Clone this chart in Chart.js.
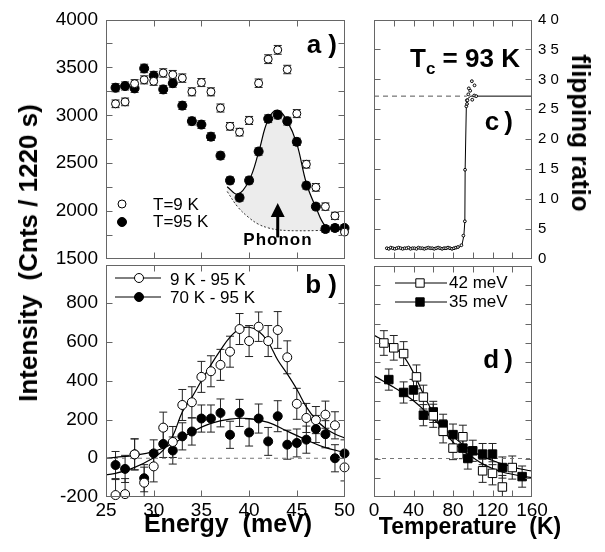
<!DOCTYPE html>
<html>
<head>
<meta charset="utf-8">
<script src="https://cdn.jsdelivr.net/npm/chart.js@4.4.1/dist/chart.umd.min.js"></script>
<style>
  html, body { margin: 0; padding: 0; background: #fff; }
  #fig { position: relative; width: 605px; height: 552px; overflow: hidden;
         font-family: "Liberation Sans", Arial, Helvetica, sans-serif; color: #000; }
  #fig canvas { position: absolute; }
  .lbl { position: absolute; font-weight: bold; white-space: nowrap; line-height: 1; }
</style>
</head>
<body>
<div id="fig">
  <canvas id="ca" width="360" height="275" style="left:0;top:0"></canvas>
  <canvas id="cb" width="360" height="293" style="left:0;top:259px"></canvas>
  <canvas id="cc" width="245" height="275" style="left:360px;top:0"></canvas>
  <canvas id="cd" width="245" height="293" style="left:360px;top:259px"></canvas>

  <div class="lbl" style="left:28px;top:253px;font-size:26px;transform:translate(-50%,-50%) rotate(-90deg)">Intensity&nbsp; (Cnts / 1220 s)</div>
  <div class="lbl" style="left:581px;top:133px;font-size:26px;transform:translate(-50%,-50%) rotate(90deg)">flipping ratio</div>
  <div class="lbl" style="left:228px;top:511px;font-size:25px;transform:translateX(-50%)">Energy&nbsp; (meV)</div>
  <div class="lbl" style="left:470px;top:515px;font-size:23px;transform:translateX(-50%)">Temperature&nbsp; (K)</div>
  <div class="lbl" style="left:410px;top:45px;font-size:26px">T<span style="font-size:17px;position:relative;top:7px">c</span> = 93 K</div>
  <div class="lbl" style="right:268px;top:31px;font-size:26px">a )</div>
  <div class="lbl" style="right:268px;top:271px;font-size:26px">b )</div>
  <div class="lbl" style="right:92px;top:108px;font-size:26px">c&#8201;)</div>
  <div class="lbl" style="right:92px;top:346px;font-size:26px">d&#8201;)</div>
  <div class="lbl" style="left:278px;top:231px;font-size:17px;letter-spacing:1px;transform:translateX(-50%)">Phonon</div>
</div>

<script>
// ---- panel a: raw intensity vs energy
const energyA = [26, 27, 28, 29, 30, 31, 32, 33, 34, 35, 36, 37, 38, 39, 40, 41, 42, 43, 44, 45, 46, 47, 48, 49, 50];
const counts9K = [3120, 3140, 3330, 3370, 3355, 3442, 3424, 3388, 3245, 3342, 3245, 3076, 2885, 2824, 2946, 3335, 3586, 3683, 3478, 3018, 2489, 2248, 2047, 1950, 1781];
const err9K = [40, 40, 42, 42, 42, 44, 44, 44, 42, 42, 42, 42, 40, 40, 42, 44, 46, 46, 44, 42, 40, 40, 38, 38, 36];
const counts95K = [3288, 3306, 3281, 3489, 3414, 3270, 3335, 3101, 2939, 2903, 2777, 2579, 2320, 2140, 2320, 2622, 2964, 3004, 2939, 2723, 2266, 2047, 1813, 1824, 1824];
const err95K = [42, 42, 42, 44, 44, 42, 42, 40, 40, 40, 40, 38, 36, 36, 36, 38, 40, 40, 40, 38, 36, 34, 34, 34, 34];
const phononFitE = [37.7, 38.8, 40, 41, 42, 43, 44, 45, 46, 47, 48, 49, 50];
const phononFit = [2255, 2176, 2320, 2615, 2957, 3054, 2939, 2705, 2291, 2040, 1842, 1810, 1806];
const phononBase = [2205, 2045, 1930, 1862, 1825, 1805, 1797, 1795, 1795, 1797, 1800, 1804, 1806];
const phononArrow = { energy: 43, from: 1725, to: 2085 };

// ---- panel b: difference spectra
const diff9K = [-190, -185, 20, -126, -42, 158, 84, 275, 289, 420, 449, 482, 550, 667, 605, 679, 605, 662, 521, 281, 208, 197, 225, 170, -47];
const errDiff9K = [80, 80, 80, 80, 80, 80, 80, 80, 80, 80, 80, 80, 80, 80, 80, 76, 80, 95, 85, 80, 75, 70, 70, 70, 70];
const diff70K = [-35, -55, 20, -103, 25, 74, 40, 113, 138, 205, 205, 234, 121, 234, 133, 205, 87, 217, 70, 79, 96, 151, 124, 0, 25];
const errDiff70K = [70, 70, 80, 70, 70, 70, 70, 70, 70, 70, 70, 72, 70, 70, 70, 75, 72, 80, 75, 72, 70, 70, 70, 70, 70];
const fitE9K = [25, 26, 28, 30, 31, 32, 33, 34, 35, 36, 37, 38, 39, 40, 41, 42, 43, 44, 45, 46, 47, 48, 49, 50];
const fit9K = [-85, -78, -47, 3, 42, 115, 239, 314, 400, 482, 558, 625, 667, 676, 655, 600, 507, 435, 356, 265, 200, 155, 125, 105];
const fitE70K = [25, 26, 28, 30, 32, 34, 36, 38, 40, 42, 44, 46, 48, 50];
const fit70K = [0, 5, 15, 35, 75, 135, 180, 202, 205, 185, 140, 95, 55, 30];

// ---- panel c: flipping ratio vs temperature
const flipT = [13, 15, 17, 19, 21, 23, 25, 27, 29, 31, 33, 35, 37, 39, 41, 43, 45, 47, 49, 51, 53, 55, 57, 59, 61, 63, 65, 67, 69, 71, 73, 75, 77, 79, 81, 83, 85,
               88.5, 90.5, 92, 92.2, 93.5, 94, 94.2, 94.6, 95.5, 96, 97.4, 99.1, 99.5, 101.8, 101.5, 103.5];
const flipR = [1.8, 1.7, 1.9, 1.8, 1.7, 1.8, 1.9, 1.8, 1.7, 1.8, 1.8, 1.9, 1.7, 1.8, 1.8, 1.7, 1.9, 1.8, 1.8, 1.7, 1.8, 1.9, 1.8, 1.8, 1.7, 1.8, 1.9, 1.8, 1.7, 1.8, 1.8, 1.9, 1.8, 1.7, 1.8, 1.9, 2.0,
               2.3, 3.9, 6.3, 14.9, 25.5, 26.5, 25.9, 26.5, 27.5, 28.5, 28.1, 29.7, 26.6, 29.0, 27.3, 27.2];
const flipFitT = [13, 86, 89, 91, 92, 92.3, 93.5, 95, 98, 160];
const flipFitR = [1.8, 1.9, 2.3, 3.9, 6.3, 15, 25.5, 26.8, 27.2, 27.2];
const flipNormal = 27.2;

// ---- panel d: intensity vs temperature
const temp42 = [10, 20, 30, 43, 50, 60, 70, 80, 90, 110, 120, 130, 140];
const int42 = [600, 575, 545, 424, 319, 222, 141, 54, 113, -64, -77, -148, -47];
const err42 = [64, 64, 62, 62, 62, 60, 60, 60, 60, 60, 60, 60, 60];
const temp35 = [15, 30, 40, 50, 60, 70, 80, 90, 95, 100, 110, 120, 130, 150];
const int35 = [410, 343, 356, 225, 242, 175, 124, 54, 0, 40, 23, 23, -47, -94];
const err35 = [55, 55, 55, 55, 55, 55, 55, 55, 55, 55, 55, 55, 55, 55];
const fitT = [0, 10, 20, 30, 40, 50, 60, 70, 80, 90, 100, 110, 120, 130, 140, 150, 160];
const fit42 = [640, 612, 580, 530, 445, 335, 235, 150, 85, 40, 5, -28, -52, -70, -82, -92, -100];
const fit35 = [430, 400, 370, 338, 300, 255, 205, 160, 115, 72, 38, 10, -10, -28, -43, -56, -66];

const FONT = '"Liberation Sans", Arial, Helvetica, sans-serif';
Chart.defaults.font.family = FONT;
Chart.defaults.color = '#000';

const toXY = (xs, ys) => xs.map((x, i) => ({ x: x, y: ys[i] }));

// fixed-size axis; the label overhang padding is dropped so the plot box stays where it is put
function axis(min, max, step, size, extra) {
    return Object.assign({
        type: 'linear', min: min, max: max,
        grid: { display: false, drawTicks: false },
        border: { display: false },
        ticks: { stepSize: step, autoSkip: false, maxRotation: 0, display: false },
        afterFit: s => {
            if (s.isHorizontal()) s.height = size; else s.width = size;
            s.paddingTop = 0; s.paddingBottom = 0; s.paddingLeft = 0; s.paddingRight = 0;
        }
    }, extra);
}

function pts(data, errors, filled, r, style) {
    return {
        data: data, errors: errors, showLine: false,
        pointStyle: style || 'circle', pointRadius: r,
        pointBackgroundColor: filled ? '#000' : '#fff',
        pointBorderColor: '#000', pointBorderWidth: 1,
        order: 0, clip: 8
    };
}

function curve(data, extra) {
    return Object.assign({
        data: data, borderColor: '#000', borderWidth: 1.2,
        pointRadius: 0, tension: 0.4, fill: false, order: 1
    }, extra);
}

// error bars, drawn under the markers
const errorBars = {
    id: 'errorBars',
    beforeDatasetsDraw(chart) {
        const ctx = chart.ctx, ys = chart.scales.y, a = chart.chartArea;
        ctx.save();
        ctx.beginPath();
        ctx.rect(a.left, a.top, a.right - a.left, a.bottom - a.top);
        ctx.clip();
        ctx.strokeStyle = '#222';
        ctx.lineWidth = 1;
        chart.data.datasets.forEach((ds, i) => {
            if (!ds.errors) return;
            const meta = chart.getDatasetMeta(i);
            meta.data.forEach((p, j) => {
                const v = ds.data[j].y, e = ds.errors[j];
                const y1 = ys.getPixelForValue(v + e), y2 = ys.getPixelForValue(v - e);
                const c = 4;
                ctx.beginPath();
                ctx.moveTo(p.x, y1); ctx.lineTo(p.x, y2);
                ctx.moveTo(p.x - c, y1); ctx.lineTo(p.x + c, y1);
                ctx.moveTo(p.x - c, y2); ctx.lineTo(p.x + c, y2);
                ctx.stroke();
            });
        });
        ctx.restore();
    }
};

// box around the plot with inward tick marks
const frame = {
    id: 'frame',
    afterDraw(chart) {
        const ctx = chart.ctx, a = chart.chartArea, len = 6;
        ctx.save();
        ctx.strokeStyle = '#666';
        ctx.lineWidth = 1;
        const L = Math.round(a.left) + 0.5, R = Math.round(a.right) - 0.5;
        const T = Math.round(a.top) + 0.5, B = Math.round(a.bottom) - 0.5;
        ctx.strokeRect(L, T, R - L, B - T);
        ctx.beginPath();
        const xs = chart.scales.x;
        xs.ticks.forEach(t => {
            const px = Math.round(xs.getPixelForValue(t.value)) + 0.5;
            if (px <= L + 1 || px >= R - 1) return;
            ctx.moveTo(px, T); ctx.lineTo(px, T + len);
            ctx.moveTo(px, B); ctx.lineTo(px, B - len);
        });
        const ys = chart.scales.y;
        ys.ticks.forEach(t => {
            const py = Math.round(ys.getPixelForValue(t.value)) + 0.5;
            if (py <= T + 1 || py >= B - 1) return;
            ctx.moveTo(L, py); ctx.lineTo(L + len, py);
            ctx.moveTo(R, py); ctx.lineTo(R - len, py);
        });
        ctx.stroke();
        ctx.restore();
    }
};

// legend symbols and texts placed inside the plot
const legendMarks = {
    id: 'legendMarks',
    afterDraw(chart, args, opts) {
        if (!opts.items) return;
        const ctx = chart.ctx;
        ctx.save();
        opts.items.forEach(it => {
            ctx.strokeStyle = '#000';
            ctx.lineWidth = 1;
            if (it.line) {
                ctx.beginPath();
                ctx.moveTo(it.line[0], it.y); ctx.lineTo(it.line[1], it.y);
                ctx.stroke();
            }
            ctx.fillStyle = it.filled ? '#000' : '#fff';
            ctx.beginPath();
            if (it.shape === 'square') ctx.rect(it.x - it.r, it.y - it.r, 2 * it.r, 2 * it.r);
            else ctx.arc(it.x, it.y, it.r, 0, Math.PI * 2);
            ctx.fill();
            ctx.stroke();
            ctx.fillStyle = '#000';
            ctx.font = '17px ' + FONT;
            ctx.textBaseline = 'alphabetic';
            ctx.fillText(it.text, it.tx, it.ty);
        });
        ctx.restore();
    }
};

// arrow marking the phonon
const arrow = {
    id: 'arrow',
    afterDatasetsDraw(chart, args, opts) {
        if (!opts.energy) return;
        const ctx = chart.ctx;
        const x = chart.scales.x.getPixelForValue(opts.energy);
        const y0 = chart.scales.y.getPixelForValue(opts.from);
        const y1 = chart.scales.y.getPixelForValue(opts.to);
        ctx.save();
        ctx.strokeStyle = '#000';
        ctx.fillStyle = '#000';
        ctx.lineWidth = 3;
        ctx.beginPath();
        ctx.moveTo(x, y0); ctx.lineTo(x, y1 + 10);
        ctx.stroke();
        ctx.beginPath();
        ctx.moveTo(x, y1); ctx.lineTo(x - 7, y1 + 14); ctx.lineTo(x + 7, y1 + 14);
        ctx.closePath();
        ctx.fill();
        ctx.restore();
    }
};

function baseOptions(scales, padding, plugins) {
    return {
        responsive: false, animation: false, devicePixelRatio: 1,
        layout: { padding: padding },
        scales: scales,
        plugins: Object.assign({
            legend: { display: false }, tooltip: { enabled: false },
            filler: { drawTime: 'beforeDatasetsDraw' }
        }, plugins)
    };
}

const tickFont = { size: 19 };
const plugins = [errorBars, frame, legendMarks, arrow];

// panel a
new Chart(document.getElementById('ca'), {
    type: 'line',
    data: {
        datasets: [
            pts(toXY(energyA, counts9K), err9K, false, 4),
            pts(toXY(energyA, counts95K), err95K, true, 4.5),
            curve(toXY(phononFitE, phononFit), { fill: '+1', backgroundColor: '#ececec', order: 2 }),
            curve(toXY(phononFitE, phononBase), { borderWidth: 1, borderDash: [2, 2], borderColor: '#333' })
        ]
    },
    options: baseOptions({
        x: axis(25, 50, 5, 16),
        y: axis(1500, 4000, 250, 106, {
            ticks: { stepSize: 250, autoSkip: false, display: true, padding: 8, font: tickFont,
                     callback: v => (v % 500 === 0 ? String(v) : '') }
        })
    }, { top: 19.5, right: 15.5, left: 0, bottom: 0 }, {
        legendMarks: { items: [
            { x: 122, y: 204, r: 4, filled: false, text: 'T=9 K', tx: 153, ty: 210 },
            { x: 122, y: 222, r: 4.5, filled: true, text: 'T=95 K', tx: 153, ty: 227 }
        ] },
        arrow: phononArrow
    }),
    plugins: plugins
});

// panel b
new Chart(document.getElementById('cb'), {
    type: 'line',
    data: {
        datasets: [
            pts(toXY(energyA, diff9K), errDiff9K, false, 4.5),
            pts(toXY(energyA, diff70K), errDiff70K, true, 4.5),
            curve(toXY(fitE9K, fit9K)),
            curve(toXY(fitE70K, fit70K)),
            curve([{ x: 25, y: 0 }, { x: 50, y: 0 }], { borderWidth: 1, borderDash: [4, 4], borderColor: '#777', tension: 0, order: 3 })
        ]
    },
    options: baseOptions({
        x: axis(25, 50, 5, 55, {
            ticks: { stepSize: 5, autoSkip: false, maxRotation: 0, display: true, padding: 2, font: tickFont }
        }),
        y: axis(-200, 1000, 200, 106, {
            ticks: { stepSize: 200, autoSkip: false, display: true, padding: 8, font: tickFont,
                     callback: v => (v === 1000 ? '' : String(v)) }
        })
    }, { top: 0, right: 15.5, left: 0, bottom: 0 }, {
        legendMarks: { items: [
            { x: 139, y: 19, r: 4.5, filled: false, line: [115, 161], text: '9 K - 95 K', tx: 170, ty: 26 },
            { x: 139, y: 38, r: 4.5, filled: true, line: [115, 161], text: '70 K - 95 K', tx: 170, ty: 44 }
        ] }
    }),
    plugins: plugins
});

// panel c
new Chart(document.getElementById('cc'), {
    type: 'line',
    data: {
        datasets: [
            pts(toXY(flipT, flipR), null, false, 1.4),
            curve(toXY(flipFitT, flipFitR), { borderWidth: 1, tension: 0 }),
            curve([{ x: 0, y: flipNormal }, { x: 94, y: flipNormal }], { borderWidth: 1, borderDash: [5, 4], borderColor: '#555', tension: 0, order: 3 })
        ]
    },
    options: baseOptions({
        x: axis(0, 160, 20, 16),
        y: axis(0, 40, 5, 14, { position: 'left' }),
        y2: axis(0, 40, 5, 73, {
            position: 'right',
            ticks: { stepSize: 5, autoSkip: false, display: true, padding: 6, font: { size: 15 },
                     callback: v => String(v).split('').join(' ') }
        })
    }, { top: 19.5, right: 0, left: 0, bottom: 0 }, {}),
    plugins: plugins
});

// panel d
new Chart(document.getElementById('cd'), {
    type: 'line',
    data: {
        datasets: [
            pts(toXY(temp42, int42), err42, false, 6, 'rect'),
            pts(toXY(temp35, int35), err35, true, 6, 'rect'),
            curve(toXY(fitT, fit42)),
            curve(toXY(fitT, fit35)),
            curve([{ x: 0, y: 0 }, { x: 160, y: 0 }], { borderWidth: 1, borderDash: [4, 4], borderColor: '#777', tension: 0, order: 3 })
        ]
    },
    options: baseOptions({
        x: axis(0, 160, 20, 55, {
            ticks: { stepSize: 20, autoSkip: false, maxRotation: 0, display: true, padding: 2, font: tickFont,
                     callback: v => (v % 40 === 0 ? String(v) : '') }
        }),
        y: axis(-200, 1000, 100, 14)
    }, { top: 0, right: 73, left: 0, bottom: 0 }, {
        legendMarks: { items: [
            { x: 60, y: 24, r: 4.2, shape: 'square', filled: false, line: [35, 87], text: '42 meV', tx: 89, ty: 29 },
            { x: 60, y: 43, r: 4.2, shape: 'square', filled: true, line: [35, 87], text: '35 meV', tx: 89, ty: 48 }
        ] }
    }),
    plugins: plugins
});
</script>
</body>
</html>
